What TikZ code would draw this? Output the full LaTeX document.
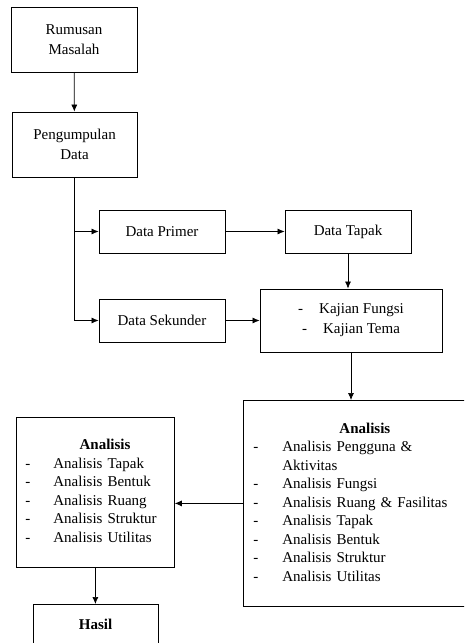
\documentclass[tikz,border=0pt]{standalone}
\usepackage{fontspec}
\setmainfont{Liberation Serif}
\usetikzlibrary{arrows.meta}
\begin{document}
\begin{tikzpicture}[x=1pt, y=-1pt]
\tikzset{kotak/.style={draw, rectangle, line width=0.8pt, inner sep=0pt, align=center, font=\fontsize{15}{20}\selectfont}}
\tikzset{daftar/.style={kotak, anchor=north west, align=left, minimum height=#1}}
\tikzset{panah/.style={-{Latex[length=7pt, width=6pt]}, line width=0.7pt}}
\clip (0, 0) rectangle (464, 643);
\node[kotak, minimum width=126pt, minimum height=65pt] (RM) at (74, 39.5) {Rumusan\\Masalah};
\node[kotak, minimum width=125pt, minimum height=65pt] (PD) at (74.5, 144.5) {Pengumpulan\\Data};
\node[kotak, minimum width=126pt, minimum height=43pt] (DP) at (162, 231.5) {Data Primer};
\node[kotak, minimum width=126pt, minimum height=43pt] (DT) at (348, 231.5) {Data Tapak};
\node[kotak, minimum width=126pt, minimum height=43pt] (DS) at (162, 320.5) {Data Sekunder};
\node[kotak, minimum width=182pt, minimum height=63pt] (KJ) at (351, 320.5) {-\hspace{16pt}Kajian Fungsi\\-\hspace{16pt}Kajian Tema};
\node[daftar=206pt, text width=207pt, inner xsep=10pt] (AR) at (243, 400) {\renewcommand{\arraystretch}{0.925}%
\begin{tabular}{@{}l@{\hspace{24pt}}l@{}}
 & \multicolumn{1}{c}{\textbf{Analisis}}\\
- & Analisis Pengguna \&\\
 & Aktivitas\\
- & Analisis Fungsi\\
- & Analisis Ruang \& Fasilitas\\
- & Analisis Tapak\\
- & Analisis Bentuk\\
- & Analisis Struktur\\
- & Analisis Utilitas
\end{tabular}};
\node[daftar=150pt, text width=140pt, inner xsep=9pt] (AL) at (16, 417) {\renewcommand{\arraystretch}{0.925}%
\begin{tabular}{@{}l@{\hspace{23pt}}l@{}}
 & \multicolumn{1}{c}{\textbf{Analisis}}\\
- & Analisis Tapak\\
- & Analisis Bentuk\\
- & Analisis Ruang\\
- & Analisis Struktur\\
- & Analisis Utilitas
\end{tabular}};
\node[kotak, anchor=north, minimum width=125pt, inner ysep=15pt, text depth=20pt, font=\fontsize{15}{20}\selectfont\bfseries] (HS) at (95.5, 604) {Hasil};
\draw[panah] (RM) -- (PD);
\draw[panah] (PD.south) |- (DP);
\draw[panah] (PD.south) |- (DS);
\draw[panah] (DP) -- (DT);
\draw[panah] (DT.south) -- (DT.south |- KJ.north);
\draw[panah] (DS) -- (KJ);
\draw[panah] (KJ.south) -- (KJ.south |- AR.north);
\draw[panah] (AR.west) -- (AR.west -| AL.east);
\draw[panah] (AL.south) -- (AL.south |- HS.north);
\end{tikzpicture}
\end{document}
